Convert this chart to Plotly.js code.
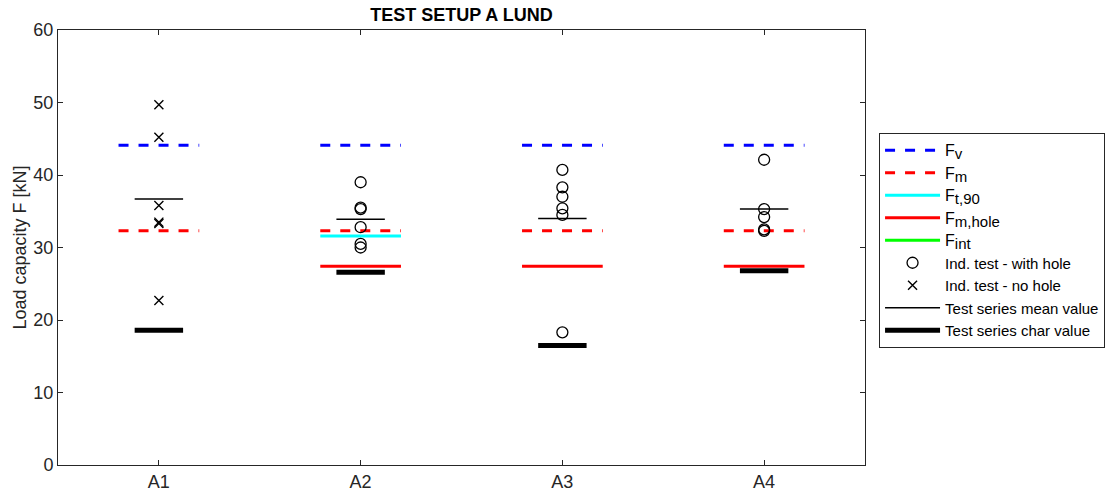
<!DOCTYPE html>
<html>
<head>
<meta charset="utf-8">
<script src="https://cdn.plot.ly/plotly-3.0.1.min.js"></script>
<style>html,body{margin:0;padding:0;background:#fff;}#chart{width:1113px;height:495px;}</style>
</head>
<body>
<div id="chart"></div>
<script>
// ---- data ----
const categories = ["A1", "A2", "A3", "A4"];
const Fv      = [44.1, 44.1, 44.1, 44.1];
const Fm      = [32.3, 32.3, 32.3, 32.3];
const Ft90    = [null, 31.6, null, null];
const Fmhole  = [null, 27.4, 27.4, 27.4];
const Fint    = [null, null, null, null];
const meanVal = [36.7, 33.9, 34.0, 35.3];
const charVal = [18.6, 26.6, 16.5, 26.8];
const withHole = [
  [],
  [39.0, 35.5, 35.3, 32.8, 30.5, 30.0],
  [40.7, 38.3, 37.0, 35.4, 34.5, 18.3],
  [42.1, 35.3, 34.2, 32.5, 32.3]
];
const noHole = [
  [49.7, 45.2, 35.8, 33.5, 33.3, 22.7],
  [], [], []
];

// ---- helpers ----
function segs(vals, half) {
  const x = [], y = [];
  vals.forEach((v, i) => {
    if (v === null) return;
    const c = i + 1;
    x.push(c - half, c + half, null);
    y.push(v, v, null);
  });
  return {x, y};
}
function pts(groups) {
  const x = [], y = [];
  groups.forEach((g, i) => g.forEach(v => { x.push(i + 1); y.push(v); }));
  return {x, y};
}
const W = 0.2, Wm = 0.12;
const sub = s => '<span style="font-size:16px">F</span><sub><span style="font-size:15px">' + s + '</span></sub>';

const traces = [];
function lineTrace(vals, half, name, color, width, dash, rank) {
  const s = segs(vals, half);
  traces.push({type: 'scatter', mode: 'lines', x: s.x.length ? s.x : [null], y: s.y.length ? s.y : [null],
    name, legendrank: rank, line: {color, width, dash}, hoverinfo: 'skip'});
}
lineTrace(Fv, W, sub('v'), '#0000ff', 3, '10px,10px', 1);
lineTrace(Fm, W, sub('m'), '#ff0000', 3, '10px,10px', 2);
lineTrace(Ft90, W, sub('t,90'), '#00ffff', 3, 'solid', 3);
lineTrace(Fmhole, W, sub('m,hole'), '#ff0000', 3, 'solid', 4);
lineTrace(Fint, W, sub('int'), '#00ff00', 3, 'solid', 5);
lineTrace(charVal, Wm, 'Test series char value', '#000000', 5, 'solid', 9);
lineTrace(meanVal, Wm, 'Test series mean value', '#000000', 1.5, 'solid', 8);
const ph = pts(withHole);
traces.push({type: 'scatter', mode: 'markers', x: ph.x, y: ph.y, name: 'Ind. test - with hole', legendrank: 6,
  marker: {symbol: 'circle-open', size: 11, color: '#000000', line: {width: 1.3, color: '#000000'}}});
const pn = pts(noHole);
traces.push({type: 'scatter', mode: 'markers', x: pn.x, y: pn.y, name: 'Ind. test - no hole', legendrank: 7,
  marker: {symbol: 'x-thin-open', size: 9, color: '#000000', line: {width: 1.4, color: '#000000'}}});

const font = 'Liberation Sans, Arial, sans-serif';
const layout = {
  width: 1113, height: 495,
  margin: {l: 58, r: 248, t: 30, b: 30, pad: 0},
  paper_bgcolor: '#ffffff', plot_bgcolor: '#ffffff',
  font: {family: font, size: 18, color: '#262626'},
  title: {text: '<b>TEST SETUP A LUND</b>', font: {family: font, size: 18, color: '#000000'},
          x: 0.5, xref: 'paper', xanchor: 'center', y: 0.97, yref: 'container', yanchor: 'middle'},
  xaxis: {range: [0.5, 4.5], tickvals: categories.map((c, i) => i + 1), ticktext: categories,
          ticks: 'inside', ticklen: 5, tickcolor: '#262626', showgrid: false, zeroline: false,
          showline: true, linecolor: '#262626', linewidth: 1, mirror: 'ticks',
          tickfont: {size: 18, color: '#262626'}},
  yaxis: {range: [0, 60], dtick: 10, ticks: 'inside', ticklen: 5, tickcolor: '#262626',
          showgrid: false, zeroline: false, showline: true, linecolor: '#262626', linewidth: 1, mirror: 'ticks',
          tickfont: {size: 18, color: '#262626'},
          title: {text: 'Load capacity F [kN]', font: {size: 18, color: '#262626'}, standoff: 2}},
  showlegend: true,
  legend: {xref: 'container', yref: 'container', x: 0.7898, xanchor: 'left', y: 0.7313, yanchor: 'top',
           bgcolor: '#ffffff', bordercolor: '#262626', borderwidth: 1, font: {size: 15, color: '#000000'},
           itemwidth: 55, tracegroupgap: 0, traceorder: 'normal'}
};
Plotly.newPlot('chart', traces, layout, {staticPlot: true, displayModeBar: false});
</script>
</body>
</html>
